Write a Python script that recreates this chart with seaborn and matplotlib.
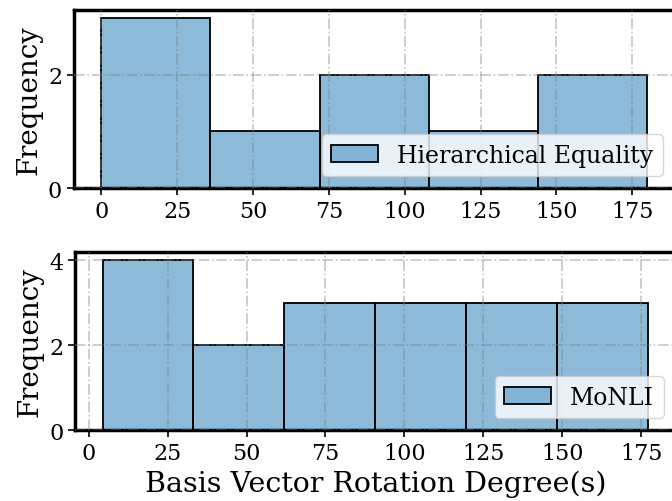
import matplotlib
matplotlib.use("Agg")
import matplotlib.pyplot as plt
import seaborn as sns
import pandas as pd

hier_degrees = [0.0, 12.0, 30.0, 45.0, 80.0, 95.0, 118.0, 150.0, 180.0]
monli_degrees = [4.4, 10.0, 20.0, 30.0, 40.0, 55.0, 65.0, 75.0, 85.0,
                 95.0, 105.0, 115.0, 125.0, 135.0, 145.0, 155.0, 165.0, 177.2]
hier_bins = 5
monli_bins = 6
hier_label = "Hierarchical Equality"
monli_label = "MoNLI"
xlabel = "Basis Vector Rotation Degree(s)"
ylabel = "Frequency"
xticks = [0, 25, 50, 75, 100, 125, 150, 175]

sns.set_style("white")
plt.rcParams["font.family"] = ["DejaVu Serif"]
plt.rcParams["font.size"] = 16
plt.rcParams["text.color"] = "black"
plt.rcParams["axes.labelcolor"] = "black"
plt.rcParams["xtick.color"] = "black"
plt.rcParams["ytick.color"] = "black"

fig = plt.figure(figsize=(6.72, 5.02), dpi=100)
ax1 = fig.add_axes([0.110, 0.6235, 0.894, 0.3546])
ax2 = fig.add_axes([0.112, 0.1414, 0.893, 0.3546])

for ax, data, bins, label, yt in [
    (ax1, hier_degrees, hier_bins, hier_label, [0, 2]),
    (ax2, monli_degrees, monli_bins, monli_label, [0, 2, 4]),
]:
    df = pd.DataFrame({"deg": data})
    sns.histplot(data=df, x="deg", bins=bins, ax=ax, color="#1f77b4",
                 alpha=0.5, edgecolor="black", linewidth=1.3, label=label)
    ax.set_xticks(xticks)
    ax.set_yticks(yt)
    ax.set_ylabel(ylabel, fontsize=20, labelpad=4)
    ax.set_xlabel("")
    ax.grid(True, linestyle="-.", color="gray", alpha=0.45, linewidth=1.2)
    ax.set_axisbelow(False)
    for s in ax.spines.values():
        s.set_linewidth(2.5)
        s.set_color("black")
    ax.tick_params(axis="both", which="major", length=5, width=1.2,
                   labelsize=16, bottom=True, left=True, direction="out",
                   colors="black")
    ax.legend(loc="lower right", fontsize=17)

ax2.set_xlabel(xlabel, fontsize=20.5)

fig.savefig("out.png", dpi=100)
